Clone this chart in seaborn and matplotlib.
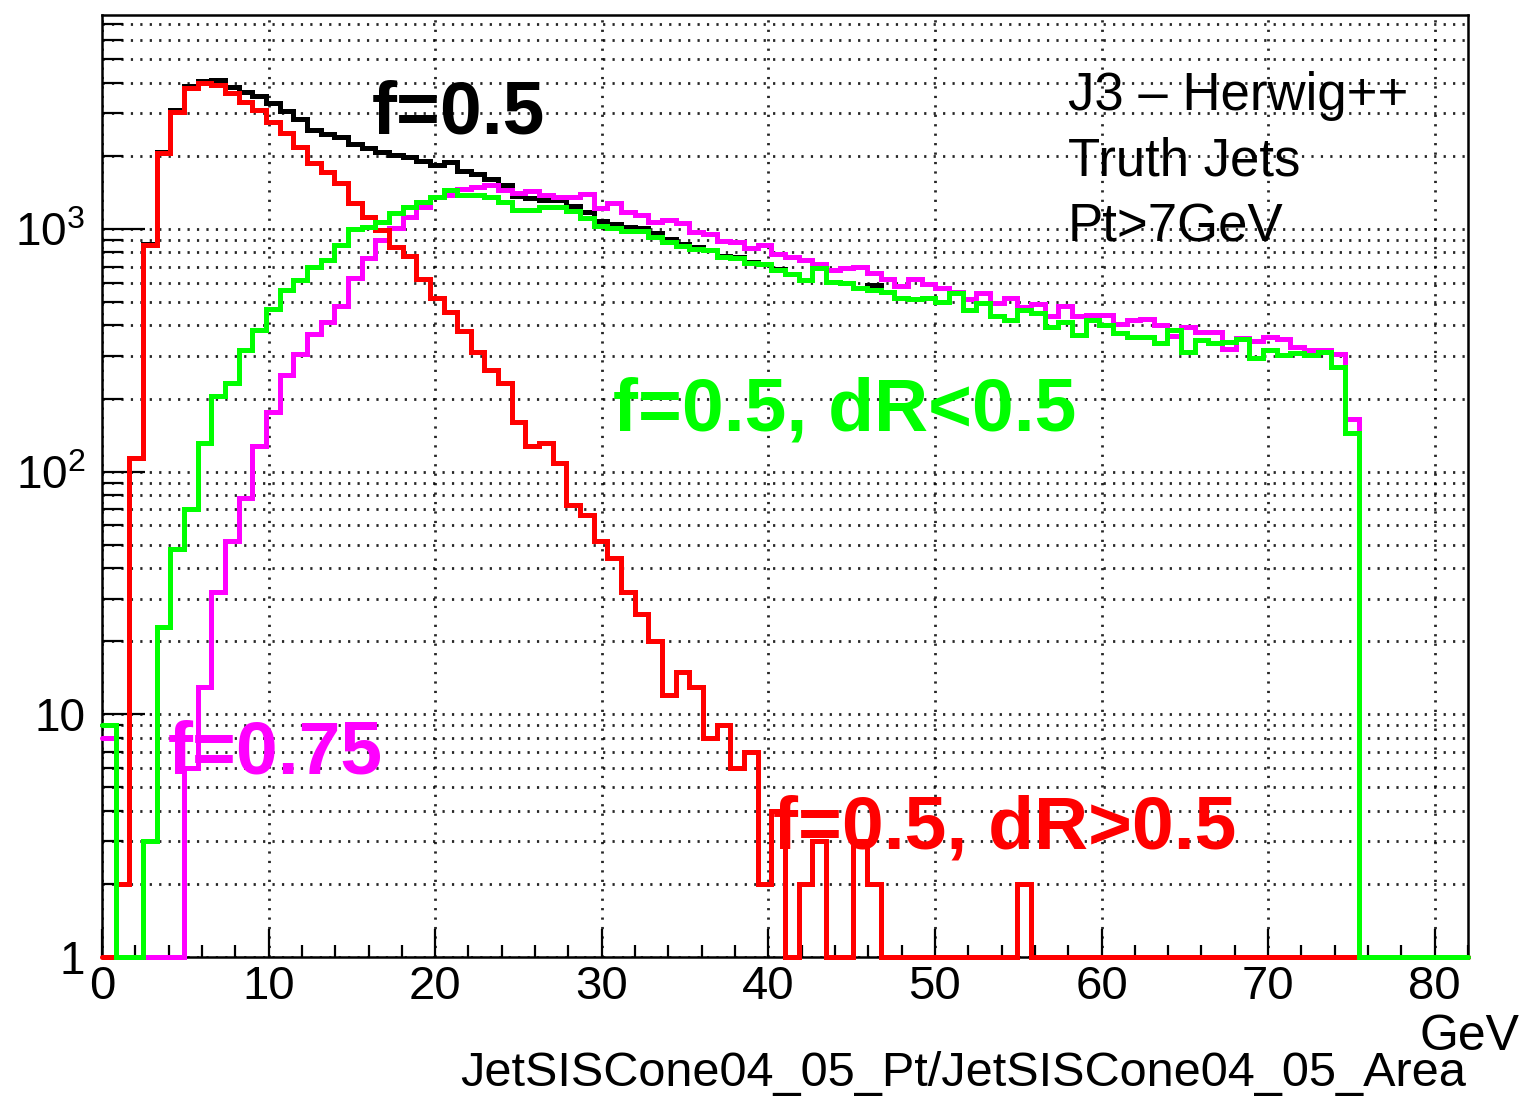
import numpy as np
import pandas as pd
import matplotlib
matplotlib.use("Agg")
import matplotlib.pyplot as plt
import seaborn as sns
from matplotlib.ticker import FixedLocator, MultipleLocator, NullFormatter

# ---------------- data (100 bins from 0 to 82 GeV) ----------------
x_min, x_max, n_bins = 0.0, 82.0, 100

black_f05 = [9, 2, 114, 863, 2073, 3088, 3870, 4083, 4100, 3850,
             3675, 3520, 3290, 3060, 2830, 2555, 2450, 2400, 2230, 2145,
             2070, 2010, 1980, 1900, 1840, 1880, 1740, 1690, 1600, 1515,
             1360, 1340, 1310, 1310, 1240, 1170, 1080, 1050, 1015, 1005,
             960, 905, 870, 840, 820, 777, 766, 733, 717, 684,
             650, 617, 691, 606, 597, 572, 585, 551, 518, 515,
             520, 501, 543, 463, 494, 438, 421, 465, 449, 395,
             415, 365, 421, 402, 371, 359, 359, 340, 383, 312,
             349, 338, 343, 353, 293, 317, 302, 307, 302, 312,
             270, 144, 0, 0, 0, 0, 0, 0, 0, 0]

magenta_f075 = [8, 0, 0, 0, 0, 0, 6, 13, 32, 52,
                78, 127, 176, 250, 305, 368, 415, 482, 626, 757,
                900, 1005, 1122, 1234, 1358, 1380, 1460, 1493, 1517, 1447,
                1402, 1437, 1380, 1358, 1358, 1389, 1223, 1275, 1178, 1141,
                1071, 1088, 1054, 974, 950, 890, 880, 832, 855, 790,
                765, 745, 715, 680, 690, 699, 656, 620, 580, 624,
                595, 570, 549, 512, 545, 496, 520, 477, 492, 437,
                482, 437, 442, 442, 404, 422, 424, 402, 362, 393,
                377, 375, 320, 354, 346, 360, 353, 326, 316, 316,
                306, 164, 0, 0, 0, 0, 0, 0, 0, 0]

red_f05_dRgt = [0, 2, 114, 860, 2050, 3040, 3800, 4000, 3920, 3620,
                3340, 3090, 2770, 2480, 2180, 1860, 1720, 1540, 1275, 1120,
                990, 845, 770, 620, 518, 456, 380, 310, 262, 231,
                160, 128, 131, 108, 73, 66, 52, 44, 32, 26,
                20, 12, 15, 13, 8, 9, 6, 7, 2, 4,
                0, 2, 3, 0, 0, 3, 2, 0, 0, 0,
                0, 0, 0, 0, 0, 0, 0, 2, 0, 0,
                0, 0, 0, 0, 0, 0, 0, 0, 0, 0,
                0, 0, 0, 0, 0, 0, 0, 0, 0, 0,
                0, 0, 0, 0, 0, 0, 0, 0, 0, 0]

green_f05_dRlt = [9, 0, 0, 3, 23, 48, 70, 131, 204, 231,
                  317, 383, 469, 560, 615, 699, 745, 859, 998, 1020,
                  1071, 1158, 1234, 1295, 1358, 1447, 1380, 1380, 1350, 1295,
                  1196, 1196, 1235, 1235, 1180, 1105, 1030, 1010, 980, 980,
                  929, 885, 850, 825, 815, 768, 760, 726, 715, 680,
                  650, 615, 688, 606, 597, 569, 560, 551, 518, 515,
                  520, 501, 543, 463, 494, 438, 421, 463, 449, 395,
                  415, 365, 421, 402, 371, 359, 359, 340, 383, 312,
                  349, 338, 343, 353, 293, 317, 302, 307, 302, 312,
                  270, 144, 0, 0, 0, 0, 0, 0, 0, 0]

x_ticks = [0, 10, 20, 30, 40, 50, 60, 70, 80]
x_tick_labels = ["0", "10", "20", "30", "40", "50", "60", "70", "80"]
y_ticks = [1, 10, 100, 1000]
y_tick_labels = ["1", "10", r"$\mathregular{10^{2}}$", r"$\mathregular{10^{3}}$"]
y_min, y_max = 1.0, 7610.0

# ---------------- style ----------------
sns.set_style("white")
plt.rcParams["font.family"] = ["Liberation Sans", "DejaVu Sans"]
plt.rcParams["mathtext.fontset"] = "custom"
plt.rcParams["mathtext.rm"] = "Liberation Sans"
plt.rcParams["text.color"] = "black"
plt.rcParams["xtick.color"] = "black"
plt.rcParams["ytick.color"] = "black"
plt.rcParams["axes.labelcolor"] = "black"

W, H = 1526, 1104
fig = plt.figure(figsize=(W / 100, H / 100), dpi=100)
ax = fig.add_axes([102 / W, (H - 957) / H, (1468 - 102) / W, (957 - 15) / H])

edges = np.linspace(x_min, x_max, n_bins + 1)

def draw_hist(values, color, order):
    v = np.asarray(values, dtype=float)
    v = np.where(v > 0, v, y_min)
    yy = np.append(v, v[-1])
    df = pd.DataFrame({"x": edges, "y": yy})
    sns.lineplot(data=df, x="x", y="y", ax=ax, color=color, linewidth=3.6,
                 drawstyle="steps-post", errorbar=None, sort=False,
                 zorder=order, clip_on=False, solid_joinstyle="miter")

draw_hist(black_f05, "#000000", 3)
draw_hist(magenta_f075, "#FF00FF", 4)
draw_hist(red_f05_dRgt, "#FF0000", 5)
draw_hist(green_f05_dRlt, "#00FF00", 6)

ax.set_yscale("log")
ax.set_xlim(x_min, x_max)
ax.set_ylim(y_min, y_max)
ax.set_xlabel("")
ax.set_ylabel("")

# ticks
ax.xaxis.set_major_locator(FixedLocator(x_ticks))
ax.set_xticklabels(x_tick_labels)
ax.xaxis.set_minor_locator(MultipleLocator(2))
ax.yaxis.set_major_locator(FixedLocator(y_ticks))
ax.set_yticklabels(y_tick_labels)
minor_y = [m * 10 ** d for d in range(0, 4) for m in range(2, 10)]
ax.yaxis.set_minor_locator(FixedLocator(minor_y))
ax.yaxis.set_minor_formatter(NullFormatter())

ax.tick_params(axis="x", which="major", direction="in", length=20, width=1.6,
               labelsize=34, pad=6, bottom=True, top=False, colors="black")
ax.tick_params(axis="x", which="minor", direction="in", length=9, width=1.6,
               bottom=True, top=False, colors="black")
ax.tick_params(axis="y", which="major", direction="in", length=31, width=1.6,
               labelsize=33, pad=12, left=True, right=False, colors="black")
ax.tick_params(axis="y", which="minor", direction="in", length=15, width=1.6,
               left=True, right=False, colors="black")

# dotted ROOT-like grid
grid_kw = dict(color="black", linewidth=2.0, linestyle=(0, (0.8, 2.6)),
               alpha=0.85)
ax.grid(True, axis="x", which="major", **grid_kw)
ax.grid(True, axis="y", which="both", **grid_kw)
ax.set_axisbelow(True)

for s in ax.spines.values():
    s.set_color("black")
    s.set_linewidth(1.8)
    s.set_visible(True)

# ---------------- texts ----------------
def ftext(px, py, s, **kw):
    fig.text(px / W, 1 - py / H, s, **kw)

ftext(372, 133, "f=0.5", color="black", fontsize=54, fontweight="bold",
      ha="left", va="baseline")
ftext(613, 430, "f=0.5, dR<0.5", color="#00FF00", fontsize=54,
      fontweight="bold", ha="left", va="baseline")
ftext(168, 773, "f=0.75", color="#FF00FF", fontsize=54, fontweight="bold",
      ha="left", va="baseline")
ftext(773, 848, "f=0.5, dR>0.5", color="#FF0000", fontsize=54,
      fontweight="bold", ha="left", va="baseline")

ftext(1068, 110, "J3 \u2013 Herwig++", color="black", fontsize=38,
      ha="left", va="baseline")
ftext(1068, 176, "Truth Jets", color="black", fontsize=38,
      ha="left", va="baseline")
ftext(1068, 242, "Pt>7GeV", color="black", fontsize=38,
      ha="left", va="baseline")

ftext(1520, 1050, "GeV", color="black", fontsize=36, ha="right",
      va="baseline")
ftext(1466, 1086, "JetSISCone04_05_Pt/JetSISCone04_05_Area", color="black",
      fontsize=35, ha="right", va="baseline")

fig.savefig("out.png", dpi=100)
